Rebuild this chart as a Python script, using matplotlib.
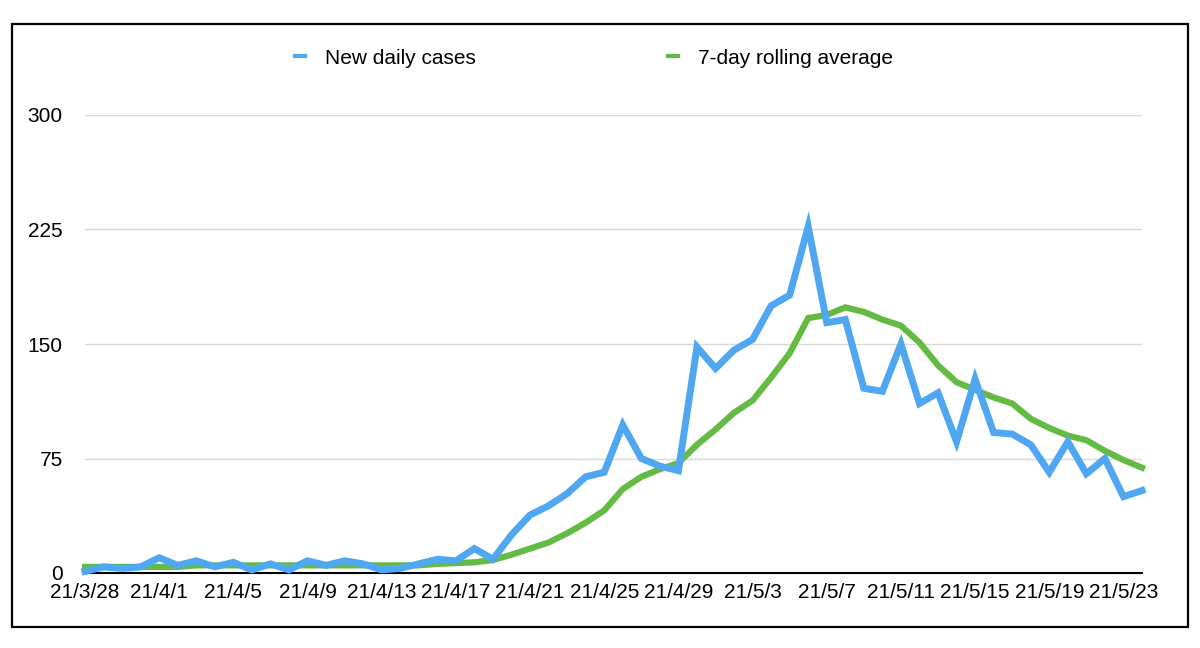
import matplotlib
matplotlib.use('Agg')
import matplotlib.pyplot as plt
import pandas as pd
from matplotlib.patches import Rectangle

plt.rcParams['font.family'] = ['Liberation Sans', 'DejaVu Sans']

# daily data 2021/3/28 .. 2021/5/24
dates = pd.date_range('2021-03-28', periods=58)
new_cases = [1, 4, 3, 4, 10, 5, 8, 4, 7, 2,
             6, 2, 8, 5, 8, 6, 2, 3, 6, 9,
             8, 16, 9, 25, 38, 44, 52, 63, 66, 97,
             75, 70, 67, 148, 134, 146, 153, 175, 182, 227,
             164, 166, 121, 119, 150, 111, 118, 86, 127, 92,
             91, 84, 66, 86, 65, 75, 50, 54]
rolling_avg = [4, 4, 4, 4, 4, 4, 5, 5, 5, 5,
               5, 5, 5, 5, 5, 5, 5, 5, 5, 6,
               6.5, 7, 8.5, 12, 16, 20, 26, 33, 41, 55,
               63, 68, 72, 84, 94, 105, 113, 128, 144, 167,
               169, 174, 171, 166, 162, 151, 136, 125, 120, 115,
               111, 101, 95, 90, 87, 80, 74, 69]
y_ticks = [0, 75, 150, 225, 300]

labels = [f"{d.year % 100}/{d.month}/{d.day}" for d in dates]
x = list(range(len(dates)))

fig = plt.figure(figsize=(12, 6.48), dpi=100)
ax = fig.add_axes([85 / 1200, 75 / 648, 1057 / 1200, 458 / 648])

ax.plot(x, rolling_avg, color='#63bb43', lw=4.5, label='7-day rolling average',
        solid_joinstyle='miter', clip_on=False, zorder=3)
ax.plot(x, new_cases, color='#4ea7f0', lw=5, label='New daily cases',
        solid_joinstyle='miter', clip_on=False, zorder=4)

ax.set_xlim(0, len(x) - 1)
ax.set_ylim(0, 300)
ax.set_yticks(y_ticks)
ax.set_xticks(x[::4])
ax.set_xticklabels(labels[::4])
ax.tick_params(axis='both', length=0, labelsize=15)
ax.tick_params(axis='y', pad=16)
ax.tick_params(axis='x', pad=7)

ax.grid(axis='y', color='#dadada', lw=1)
ax.set_axisbelow(True)
for s in ['left', 'right', 'top']:
    ax.spines[s].set_visible(False)
ax.spines['bottom'].set_color('black')
ax.spines['bottom'].set_linewidth(1.5)
ax.spines['bottom'].set_zorder(2)

h, l = ax.get_legend_handles_labels()
leg = ax.legend([h[1], h[0]], [l[1], l[0]], ncol=2, loc='center',
                bbox_to_anchor=(594 / 1200, 1 - 58 / 648), bbox_transform=fig.transFigure,
                frameon=False, fontsize=15, handlelength=0.5, handletextpad=0.95,
                columnspacing=9.2, borderpad=0)
for line in leg.get_lines():
    line.set_linewidth(3)

fig.patches.append(Rectangle((12 / 1200, 21 / 648), 1176 / 1200, 603 / 648,
                             transform=fig.transFigure, fill=False,
                             edgecolor='black', lw=1.6))

fig.savefig('out.png', dpi=100)
